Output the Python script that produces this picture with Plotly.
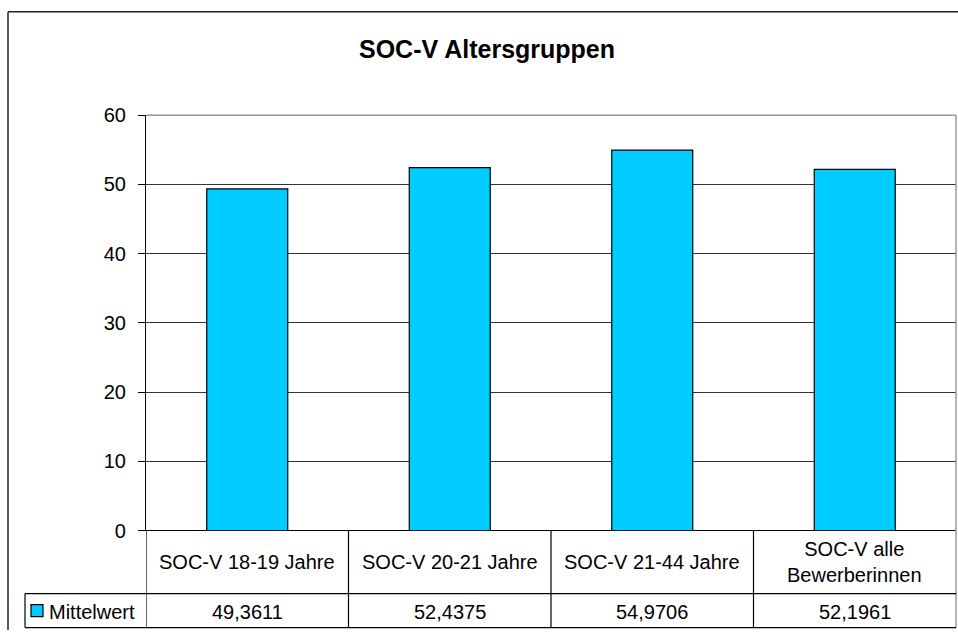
import plotly.graph_objects as go

# ---- data ----
categories = ["SOC-V 18-19 Jahre", "SOC-V 20-21 Jahre", "SOC-V 21-44 Jahre", "SOC-V alle<br>Bewerberinnen"]
values = [49.3611, 52.4375, 54.9706, 52.1961]
value_labels = ["49,3611", "52,4375", "54,9706", "52,1961"]
series_name = "Mittelwert"
title_text = "SOC-V Altersgruppen"
y_ticks = [0, 10, 20, 30, 40, 50, 60]

W, H = 958, 641
FONT = "Liberation Sans, Arial, sans-serif"
BAR = "#00CCFF"

# the page is photographed with a small vertical offset/scale; compensate it
OFF, SC = 9.6, 0.967

def px(x):
    return x / W

def py(y):
    yi = (y - OFF) / SC
    yi = min(max(yi, 0.75), H)
    return 1 - yi / H

x_left, x_right = 146, 956
y_top, y_bot = 114, 530
row1_bot, row2_bot = 593, 627
legend_left = 25

fig = go.Figure()
fig.add_trace(go.Bar(
    x=list(range(len(categories))), y=values, name=series_name,
    marker=dict(color=BAR, line=dict(color="#000000", width=1.2)),
    width=0.4, showlegend=False, hoverinfo="y",
))

shapes = []
annotations = []

# outer chart border (only top and left are visible in the frame)
shapes.append(dict(type="line", xref="paper", yref="paper",
                   x0=px(8), x1=1, y0=py(8), y1=py(8),
                   line=dict(color="#222222", width=1.5)))
shapes.append(dict(type="line", xref="paper", yref="paper",
                   x0=px(8), x1=px(8), y0=py(8), y1=0,
                   line=dict(color="#222222", width=1.5)))
# plot area border (top/right gray)
shapes.append(dict(type="line", xref="paper", yref="paper",
                   x0=px(x_left), x1=px(x_right), y0=py(y_top), y1=py(y_top),
                   line=dict(color="#999999", width=1.5), layer="above"))
shapes.append(dict(type="line", xref="paper", yref="paper",
                   x0=px(x_right), x1=px(x_right), y0=py(y_top), y1=py(row2_bot),
                   line=dict(color="#999999", width=1.5), layer="above"))

# data table lines
n = len(categories)
for i in range(n):
    xb = i - 0.5
    shapes.append(dict(type="line", xref="x", yref="paper",
                       x0=xb, x1=xb, y0=py(y_bot), y1=py(row2_bot),
                       line=dict(color="#000000", width=1.2)))
for yy in (row1_bot, row2_bot):
    shapes.append(dict(type="line", xref="paper", yref="paper",
                       x0=px(legend_left), x1=px(x_right), y0=py(yy), y1=py(yy),
                       line=dict(color="#000000", width=1.2)))
shapes.append(dict(type="line", xref="paper", yref="paper",
                   x0=px(legend_left), x1=px(legend_left), y0=py(row1_bot), y1=py(row2_bot),
                   line=dict(color="#000000", width=1.2)))
# legend key
shapes.append(dict(type="rect", xref="paper", yref="paper",
                   x0=px(31), x1=px(43), y0=py(616), y1=py(604),
                   fillcolor=BAR, line=dict(color="#000000", width=1.2)))

for i, (c, v) in enumerate(zip(categories, value_labels)):
    annotations.append(dict(x=i, xref="x", y=py((y_bot + row1_bot) / 2), yref="paper",
                            text=c, showarrow=False, xanchor="center", yanchor="middle",
                            font=dict(family=FONT, size=20, color="#000000")))
    annotations.append(dict(x=i, xref="x", y=py((row1_bot + row2_bot) / 2 + 1), yref="paper",
                            text=v, showarrow=False, xanchor="center", yanchor="middle",
                            font=dict(family=FONT, size=20, color="#000000")))
annotations.append(dict(x=px(47), xref="paper", y=py(611), yref="paper",
                        text=series_name, showarrow=False, xanchor="left", yanchor="middle",
                        font=dict(family=FONT, size=20, color="#000000")))
annotations.append(dict(x=px(487), xref="paper", y=py(48), yref="paper",
                        text="<b>" + title_text + "</b>", showarrow=False,
                        xanchor="center", yanchor="middle",
                        font=dict(family=FONT, size=25, color="#000000")))

fig.update_layout(
    width=W, height=H,
    margin=dict(l=0, r=0, t=0, b=0),
    paper_bgcolor="#FFFFFF", plot_bgcolor="#FFFFFF",
    font=dict(family=FONT, size=20, color="#000000"),
    bargap=0.6,
    shapes=shapes, annotations=annotations,
    xaxis=dict(domain=[px(x_left), px(x_right)], range=[-0.5, n - 0.5],
               showticklabels=False, showgrid=False, zeroline=False,
               showline=False, ticks="", fixedrange=True),
    yaxis=dict(domain=[py(y_bot), py(y_top)], range=[0, 60],
               tickvals=y_ticks, ticktext=[str(t) for t in y_ticks],
               showgrid=True, gridcolor="#333333", gridwidth=1,
               zeroline=True, zerolinecolor="#000000", zerolinewidth=1.2,
               showline=True, linecolor="#000000", linewidth=1.2,
               ticks="outside", ticklen=7, tickcolor="#000000",
               ticklabelstandoff=8,
               tickfont=dict(family=FONT, size=20, color="#000000"),
               fixedrange=True),
)

post = ("var s=document.createElement('style');"
        "s.textContent='html,body{margin:0;padding:0;overflow:hidden;}';"
        "document.head.appendChild(s);")

fig.write_html("out.html", post_script=post, config={"displayModeBar": False})
